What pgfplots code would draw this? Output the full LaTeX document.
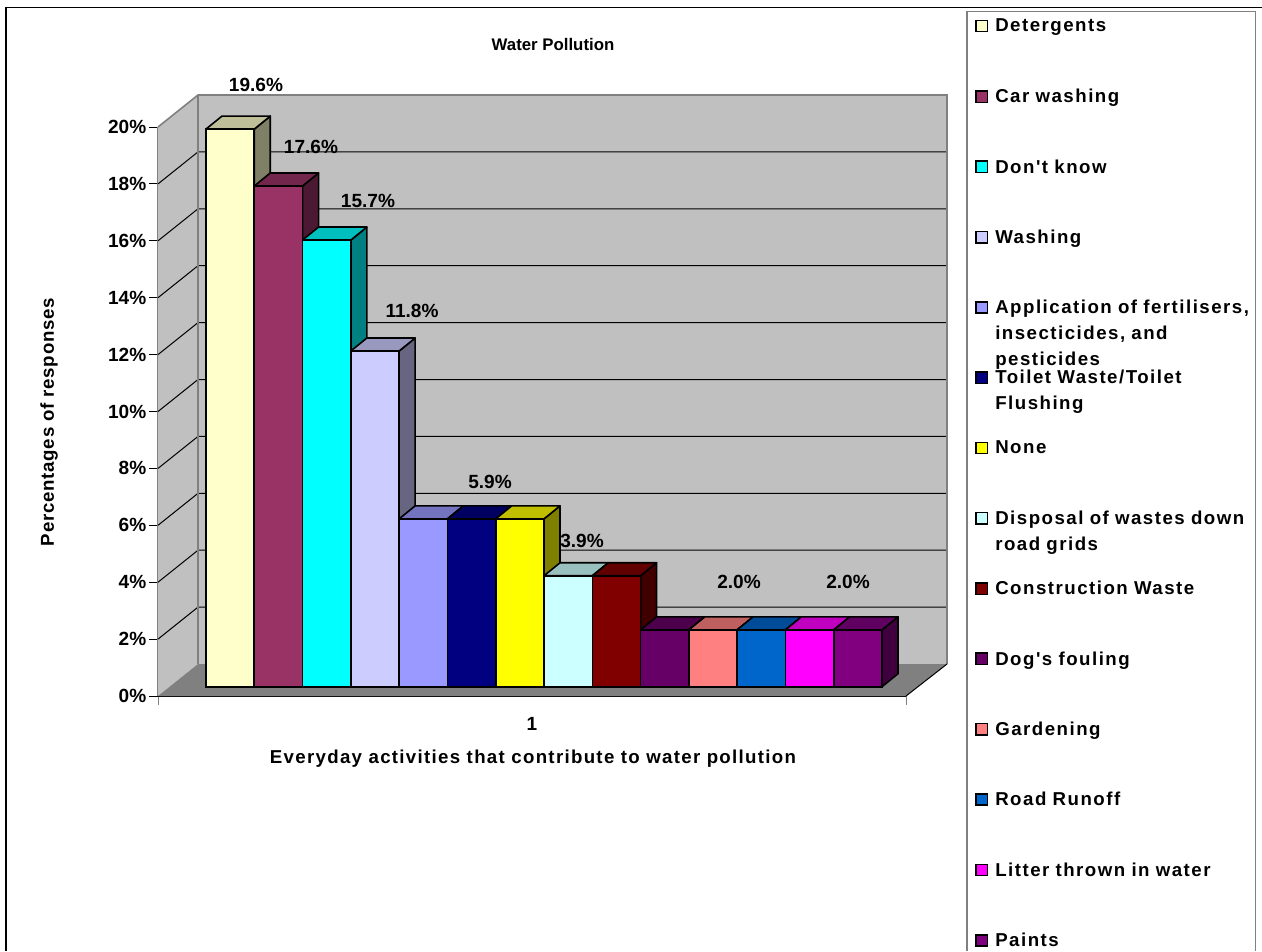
\documentclass[border=0pt]{standalone}
\usepackage{pgfplots}
\pgfplotsset{compat=1.18}
\usepackage{fontspec}
\setmainfont{Liberation Sans}
\newfontfamily\keyfamily[LetterSpace=8]{Liberation Sans}
\newfontfamily\widefont[LetterSpace=7]{Liberation Sans}
\newfontfamily\midfont[LetterSpace=4]{Liberation Sans}
\usetikzlibrary{calc}

% One drawing unit is one raster pixel; the page is 1262 x 951 units.
\newlength{\px}\setlength{\px}{0.75pt}
\newcommand{\chartfont}{\fontsize{11.6pt}{14pt}\selectfont\bfseries}
\newcommand{\valuefont}{\fontsize{14.3pt}{17pt}\selectfont\bfseries}
\newcommand{\titlefont}{\fontsize{12.6pt}{15pt}\selectfont\bfseries}
\newcommand{\namefont}{\widefont\fontsize{14pt}{19.5pt}\selectfont\bfseries}
\newcommand{\keyfont}{\keyfamily\fontsize{14pt}{19.5pt}\selectfont\bfseries}
\newcommand{\sidefont}{\midfont\fontsize{14pt}{17pt}\selectfont\bfseries}

% depth of a bar in axis units: 16 units across, 13 units up (0.457 percent)
\pgfmathsetmacro{\barw}{48.29}

% \column{left edge}{value}{colour}
\newcommand{\column}[3]{%
  \pgfmathsetmacro{\xa}{#1}%
  \pgfmathsetmacro{\xb}{#1+\barw}%
  \pgfmathsetmacro{\xc}{#1+16}%
  \pgfmathsetmacro{\xd}{#1+\barw+16}%
  \pgfmathsetmacro{\yt}{#2+0.457}%
  \pgfmathsetmacro{\yb}{0.457}%
  \edef\temp{%
    \noexpand\addplot[draw=black,line width=1.6\px,line join=round,fill=#3!50!black]
      coordinates {(\xb,0) (\xd,\yb) (\xd,\yt) (\xb,#2)} --cycle;
    \noexpand\addplot[draw=black,line width=1.6\px,line join=round,fill=#3!75!black]
      coordinates {(\xa,#2) (\xc,\yt) (\xd,\yt) (\xb,#2)} --cycle;
    \noexpand\addplot[ybar,bar width=\barw\px,bar shift=0pt,draw=black,line width=1.6\px,fill=#3]
      coordinates {(\xa+0.5*\barw,#2)};
  }\temp
}

\definecolor{cA}{HTML}{FFFFCC}
\definecolor{cB}{HTML}{993366}
\definecolor{cC}{HTML}{00FFFF}
\definecolor{cD}{HTML}{CCCCFF}
\definecolor{cE}{HTML}{9999FF}
\definecolor{cF}{HTML}{000080}
\definecolor{cG}{HTML}{FFFF00}
\definecolor{cH}{HTML}{CCFFFF}
\definecolor{cI}{HTML}{800000}
\definecolor{cJ}{HTML}{660066}
\definecolor{cK}{HTML}{FF8080}
\definecolor{cL}{HTML}{0066CC}
\definecolor{cM}{HTML}{FF00FF}
\definecolor{cN}{HTML}{800080}
\definecolor{wall}{HTML}{C0C0C0}
\definecolor{floorgrey}{HTML}{808080}

\begin{document}
\begin{tikzpicture}[x=\px,y=-\px,font=\chartfont]
\path[use as bounding box] (0,0) rectangle (1262,951);
\fill[white] (0,0) rectangle (1262,951);
\draw[black,line width=1.6\px] (6,951) -- (6,7.6) -- (1262,7.6);

% room: side wall, back wall and floor, with the value axis on the front plane
\begin{axis}[
  at={(158\px,-696\px)},anchor=south west,
  scale only axis,width=748\px,height=569\px,
  xmin=158,xmax=906,ymin=0,ymax=20,
  clip=false,
  axis x line*=bottom,axis y line*=left,
  axis line style={-},
  x axis line style={draw=black,line width=1.5\px},
  y axis line style={draw=floorgrey,line width=1.6\px},
  xtick={158,906},xticklabels={},
  extra x ticks={532},extra x tick labels={1},
  extra x tick style={major tick length=0pt,tick label style={yshift=-17\px}},
  x tick style={draw=floorgrey,line width=1\px},
  major tick length=9\px,
  tick align=outside,
  ytick={0,2,...,20},
  y tick style={draw=black,line width=1\px},
  yticklabel={\pgfmathprintnumber{\tick}\%},
  /pgf/number format/assume math mode=true,
  tick label style={font=\valuefont},
  yticklabel style={xshift=2\px},
]
\addplot[fill=wall,draw=none] coordinates {(158,0) (198,1.125) (198,21.125) (158,20)} --cycle;
\addplot[fill=wall,draw=none] coordinates {(198,1.125) (947,1.125) (947,21.125) (198,21.125)} --cycle;
\addplot[fill=floorgrey,draw=none] coordinates {(158,0) (198,1.125) (947,1.125) (906,0)} --cycle;
% grid across the back wall and down the side wall
\pgfplotsinvokeforeach{2,4,...,18}{
  \addplot[black,line width=1\px] coordinates {(158,#1) (198,#1+1.125) (947,#1+1.125)};
}
\addplot[floorgrey,line width=1.6\px] coordinates {(158,20) (198,21.125) (947,21.125) (947,1.125)};
\addplot[floorgrey,line width=1.6\px] coordinates {(198,21.125) (198,1.125)};
\addplot[black,line width=1\px] coordinates {(947,1.125) (906,0)};
\end{axis}

% columns, set back from the front plane of the room
\begin{axis}[
  at={(206\px,-686.7\px)},anchor=south west,
  scale only axis,width=676\px,height=569\px,
  xmin=206,xmax=882,ymin=0,ymax=20,
  hide axis,clip=false,
]
\column{206.00}{19.6}{cA}
\column{254.29}{17.6}{cB}
\column{302.57}{15.7}{cC}
\column{350.86}{11.8}{cD}
\column{399.14}{5.9}{cE}
\column{447.43}{5.9}{cF}
\column{495.71}{5.9}{cG}
\column{544.00}{3.9}{cH}
\column{592.29}{3.9}{cI}
\column{640.57}{2.0}{cJ}
\column{688.86}{2.0}{cK}
\column{737.14}{2.0}{cL}
\column{785.43}{2.0}{cM}
\column{833.71}{2.0}{cN}
\node[font=\valuefont] at (axis cs:256,21.15) {19.6\%};
\node[font=\valuefont] at (axis cs:311,18.97) {17.6\%};
\node[font=\valuefont] at (axis cs:368,17.07) {15.7\%};
\node[font=\valuefont] at (axis cs:412,13.2) {11.8\%};
\node[font=\valuefont] at (axis cs:490,7.2) {5.9\%};
\node[font=\valuefont] at (axis cs:582,5.12) {3.9\%};
\node[font=\valuefont] at (axis cs:739,3.7) {2.0\%};
\node[font=\valuefont] at (axis cs:848,3.7) {2.0\%};
\end{axis}

% titles
\node[font=\titlefont] at (553,44) {Water Pollution};
\node[font=\namefont] at (533,759) {Everyday activities that contribute to water pollution};
\node[rotate=90,font=\sidefont] at (49,422) {Percentages of responses};

% legend
\draw[floorgrey,line width=1.5\px,fill=white] (967,951) -- (967,11.5) -- (1255.5,11.5) -- (1255.5,951);
\newcommand{\key}[3]{%
  \draw[black,line width=1.5\px,fill=#2] (975.8,#1-5.7) rectangle (987.3,#1+5.7);
  \node[anchor=north west,inner sep=0pt,align=left,text width=262\px,
        font=\keyfont] at (995,#1-7.7) {#3};}
\key{26}{cA}{Detergents}
\key{96.7}{cB}{Car washing}
\key{166.9}{cC}{Don't know}
\key{237.2}{cD}{Washing}
\key{307.5}{cE}{Application of fertilisers,\\insecticides, and\\pesticides}
\key{377.8}{cF}{Toilet Waste/Toilet\\Flushing}
\key{448}{cG}{None}
\key{518.3}{cH}{Disposal of wastes down\\road grids}
\key{588.6}{cI}{Construction Waste}
\key{658.9}{cJ}{Dog's fouling}
\key{729.3}{cK}{Gardening}
\key{799.5}{cL}{Road Runoff}
\key{870}{cM}{Litter thrown in water}
\key{940.5}{cN}{Paints}
\end{tikzpicture}
\end{document}
